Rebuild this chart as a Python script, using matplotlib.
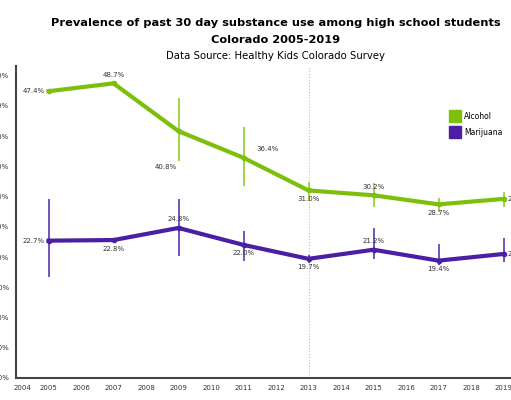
import numpy as np
import matplotlib
matplotlib.use('Agg')
import matplotlib.pyplot as plt
import matplotlib.transforms as mtransforms

# datos
years = [2005, 2007, 2009, 2011, 2013, 2015, 2017, 2019]
alcohol = [47.4, 48.7, 40.8, 36.4, 31.0, 30.2, 28.7, 29.6]
alcohol_lo = [47.4, 48.7, 35.9, 31.7, 29.2, 28.3, 27.4, 28.3]
alcohol_hi = [47.4, 48.7, 46.3, 41.5, 32.4, 32.2, 29.8, 30.7]
marijuana = [22.7, 22.8, 24.8, 22.0, 19.7, 21.2, 19.4, 20.5]
marijuana_lo = [16.7, 22.8, 20.2, 19.3, 19.0, 19.7, 18.7, 19.2]
marijuana_hi = [29.6, 22.8, 29.6, 24.3, 20.3, 24.8, 22.1, 23.1]

# posicion de cada etiqueta: izquierda, arriba, abajo, derecha
alc_pos = ['l', 'a', 'bl', 'ar', 'b', 'a', 'b', 'r']
mar_pos = ['l', 'b', 'a', 'b', 'b', 'a', 'b', 'r']

xticks = list(range(2004, 2020))
yticks = [0, 5, 10, 15, 20, 25, 30, 35, 40, 45, 50]

green = '#7dbf0a'
purple = '#4a1fa3'

plt.rcParams['font.family'] = 'DejaVu Sans'

fig = plt.figure(figsize=(5.11, 4.0), dpi=100)
ax = fig.add_axes([16 / 511, 22 / 400, 520 / 511, 51.5 * 6.05 / 400])

# intervalos de confianza
ax.vlines(years, alcohol_lo, alcohol_hi, color='#8fcf2a', lw=1.2, zorder=2)
ax.vlines(years, marijuana_lo, marijuana_hi, color='#5a35b0', lw=1.2, zorder=2)

ax.plot(years, alcohol, color=green, lw=3, marker='o', ms=3, label='Alcohol', zorder=3)
ax.plot(years, marijuana, color=purple, lw=3, marker='o', ms=3, label='Marijuana', zorder=3)

ax.axvline(2013, color='#bbbbbb', lw=0.8, ls=':', zorder=1)

offsets = {
    'l': ((-3, 0), 'right', 'center'),
    'r': ((3, 0), 'left', 'center'),
    'a': ((0, 4), 'center', 'bottom'),
    'ar': ((17, 4), 'center', 'bottom'),
    'b': ((0, -4), 'center', 'top'),
    'bl': ((-9, -26), 'center', 'center'),
}


def etiquetas(xs, ys, pos):
    for x, y, p in zip(xs, ys, pos):
        off, ha, va = offsets[p]
        ax.annotate('%.1f%%' % y, (x, y), xytext=off, textcoords='offset points',
                    ha=ha, va=va, fontsize=5, color='#333333')


etiquetas(years, alcohol, alc_pos)
etiquetas(years, marijuana, mar_pos)

ax.set_xlim(2004, 2020)
ax.set_ylim(0, 51.5)
ax.set_xticks(xticks)
ax.set_xticklabels([str(t) for t in xticks])
ax.set_yticks(yticks)
ax.set_yticklabels(['%.1f%%' % t for t in yticks])
ax.tick_params(length=0, labelsize=5, colors='#333333', pad=5)

# la etiqueta 2004 va un poco a la derecha del eje
lbl = ax.get_xticklabels()[0]
lbl.set_transform(lbl.get_transform() + mtransforms.ScaledTranslation(6 / 100, 0, fig.dpi_scale_trans))

for s in ['top', 'right']:
    ax.spines[s].set_visible(False)
for s in ['left', 'bottom']:
    ax.spines[s].set_color('#444444')
    ax.spines[s].set_linewidth(1.5)

leg = ax.legend(loc='upper left', bbox_to_anchor=(428 / 520, 0.875), frameon=False,
                fontsize=5.5, handlelength=1.2, handleheight=1.2, labelspacing=0.9,
                handletextpad=0.5)
for h in leg.legend_handles:
    h.set_linewidth(0)
    h.set_marker('s')
    h.set_markersize(8)

fig.text(0.54, 1 - 23 / 400, 'Prevalence of past 30 day substance use among high school students',
         ha='center', va='center', fontsize=8.2, fontweight='bold')
fig.text(0.54, 1 - 40 / 400, 'Colorado 2005-2019', ha='center', va='center',
         fontsize=8.2, fontweight='bold')
fig.text(0.54, 1 - 56 / 400, 'Data Source: Healthy Kids Colorado Survey', ha='center',
         va='center', fontsize=7.3)

fig.savefig('out.png', dpi=100)
